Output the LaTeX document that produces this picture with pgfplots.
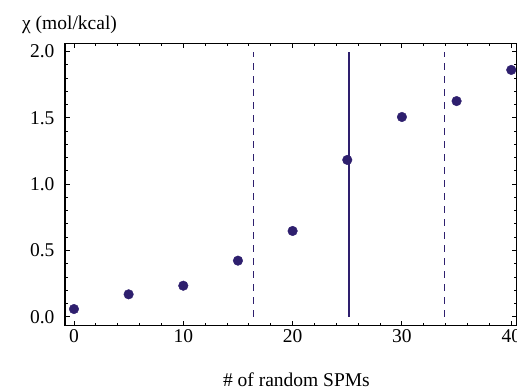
\documentclass[border=0pt]{standalone}
\usepackage{fontspec}
\setmainfont{Liberation Serif}
\usepackage{pgfplots}
\pgfplotsset{compat=1.18}
\definecolor{pt}{RGB}{46,31,110}
\begin{document}
\begin{tikzpicture}[font=\fontsize{19.5bp}{23bp}\selectfont]
\begin{axis}[
  scale only axis,
  width=451.5bp, height=282.3bp,
  xmin=-0.82, xmax=40.48,
  ymin=-0.067, ymax=2.063,
  xtick={0,10,20,30,40},
  ytick={0,0.5,1,1.5,2},
  minor x tick num=4,
  minor y tick num=4,
  tick align=inside,
  major tick length=5bp,
  minor tick length=3bp,
  axis line style={line width=1.1bp},
  every tick/.style={black, line width=0.9bp},
  /pgf/number format/assume math mode=true,
  yticklabel style={xshift=-7bp, /pgf/number format/fixed, /pgf/number format/precision=1, /pgf/number format/fixed zerofill},
  xlabel={\# of random SPMs},
  xlabel style={at={(axis description cs:0.5,0)}, anchor=base, yshift=-61bp, xshift=5.7bp},
  clip=false,
]
\addplot[only marks, mark=*, mark size=4.8bp, color=pt] coordinates {
(0,0.058) (5,0.169) (10,0.234) (15,0.423) (20,0.647) (25,1.183) (30,1.507) (35,1.627) (40,1.862)
};
\addplot[color=pt, line width=1.7bp] coordinates {(25.15,0) (25.15,2.0)};
\addplot[color=pt, line width=1bp, dash pattern=on 7bp off 6bp] coordinates {(16.4,0) (16.4,2.0)};
\addplot[color=pt, line width=1bp, dash pattern=on 7bp off 6bp] coordinates {(33.85,0) (33.85,2.0)};
\node[anchor=base west, inner sep=0pt, xshift=-43bp, yshift=14bp] at (rel axis cs:0,1) {χ (mol/kcal)};
\end{axis}
\pgfresetboundingbox
\path ([xshift=-65bp,yshift=-64.4bp]current axis.south west) rectangle ([xshift=0.5bp,yshift=43.3bp]current axis.north east);
\end{tikzpicture}
\end{document}
